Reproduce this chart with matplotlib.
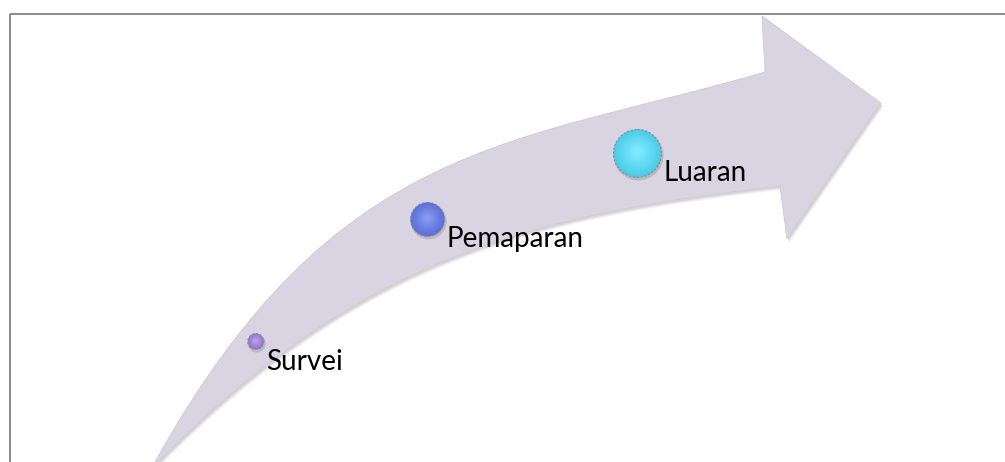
# Curved process arrow with three stages (Survei -> Pemaparan -> Luaran)
import numpy as np
import matplotlib
matplotlib.use("Agg")
import matplotlib.pyplot as plt
from matplotlib.path import Path
from matplotlib.patches import PathPatch, Circle

# stage data
stage_labels = ["Survei", "Pemaparan", "Luaran"]
stage_t = [0.175, 0.475, 0.81]          # position along the arrow (0 = tail, 1 = head)

# styles
stage_radius = [8, 17, 24]
stage_base = ["#9473cf", "#5a6fda", "#4ccbe6"]
stage_light = ["#b79ee6", "#8496ee", "#7ae8ff"]
arrow_color = "#d9d4e1"
font = ["Lato", "DejaVu Sans"]

# arrow outline (pixel space): upper edge, head, lower edge
upper_edge = [(155, 462), (335, 138), (515, 145), (765, 72)]
head = [(762, 16), (881, 103), (787, 239), (780, 186)]
lower_edge = [(158, 462), (360, 258), (530, 215), (780, 186)]


def bezier(pts, t):
    p = np.array(pts, dtype=float)
    t = np.atleast_1d(t)[:, None]
    return ((1 - t) ** 3 * p[0] + 3 * (1 - t) ** 2 * t * p[1]
            + 3 * (1 - t) * t ** 2 * p[2] + t ** 3 * p[3])


def arrow_path(dx=0, dy=0):
    verts = [upper_edge[0]] + upper_edge[1:] + head + lower_edge[::-1][1:] + [upper_edge[0]]
    codes = ([Path.MOVETO] + [Path.CURVE4] * 3 + [Path.LINETO] * 4
             + [Path.CURVE4] * 3 + [Path.CLOSEPOLY])
    verts = [(x + dx, y + dy) for x, y in verts]
    return Path(verts, codes)


fig = plt.figure(figsize=(10.05, 4.62), dpi=100)
ax = fig.add_axes([0, 0, 1, 1])
ax.set_xlim(0, 1005)
ax.set_ylim(462, 0)
ax.axis("off")

# frame (top and left only visible)
ax.plot([9.5, 1005], [14, 14], color="#777777", lw=1.2, solid_capstyle="butt")
ax.plot([9.5, 9.5], [14, 462], color="#777777", lw=1.2, solid_capstyle="butt")

# soft shadow then arrow
for k, a in [(4, 0.06), (3, 0.08), (2, 0.12)]:
    ax.add_patch(PathPatch(arrow_path(k * 0.6, k), facecolor="#555555",
                           edgecolor="none", alpha=a, zorder=1))
ax.add_patch(PathPatch(arrow_path(), facecolor=arrow_color,
                       edgecolor="#cfc9d8", lw=0.6, zorder=2))

# stage points along the arrow midline
mid = [((u[0] + l[0]) / 2, (u[1] + l[1]) / 2) for u, l in zip(upper_edge, lower_edge)]
centers = bezier(mid, np.array(stage_t))
centers[:, 1] -= 3

for (cx, cy), lab, r, c0, c1 in zip(centers, stage_labels, stage_radius,
                                   stage_base, stage_light):
    ax.add_patch(Circle((cx + 1, cy + 2), r + 1, color="#666666", alpha=0.25, zorder=3, lw=0))
    n = 12
    for i in range(n):
        f = i / (n - 1)
        col = np.array(matplotlib.colors.to_rgb(c0)) * (1 - f) + np.array(matplotlib.colors.to_rgb(c1)) * f
        ax.add_patch(Circle((cx, cy - 0.1 * r * f), r * (1 - 0.8 * f), color=col, lw=0, zorder=4))
    ax.add_patch(Circle((cx, cy), r, facecolor="none", edgecolor="#8a8a9a",
                        lw=0.8, ls=(0, (2, 1.5)), zorder=5))
    ax.text(cx + r + 2, cy + 28, lab, fontsize=20, family=font,
            color="black", va="baseline", ha="left", zorder=6)

fig.savefig("out.png", dpi=100)
